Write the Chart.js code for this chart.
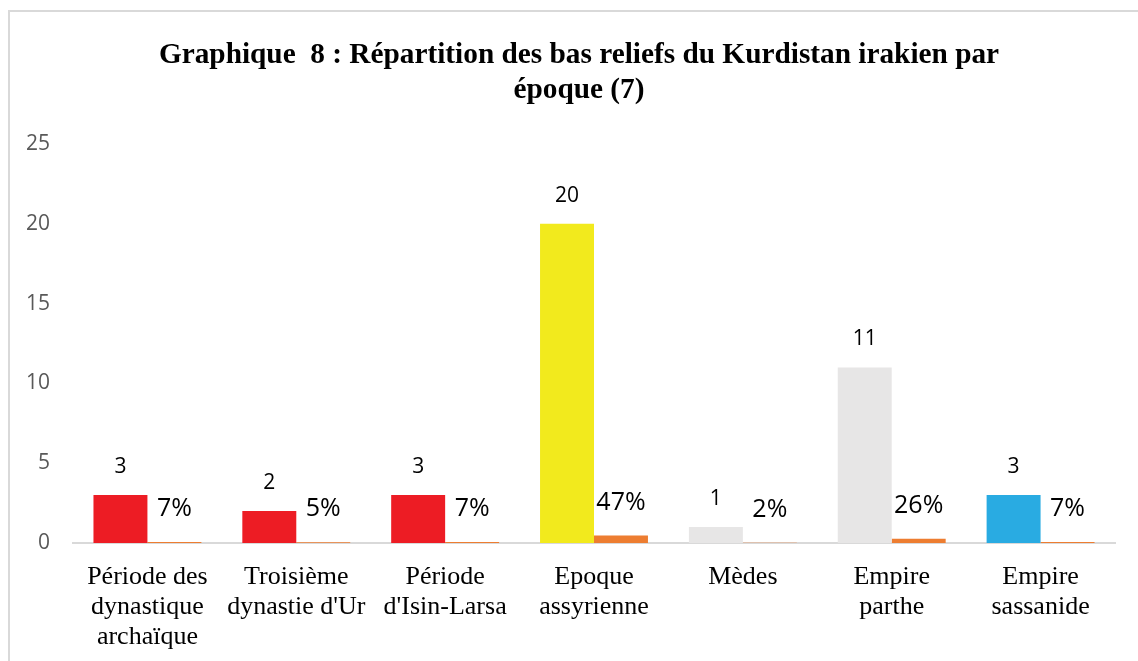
<!DOCTYPE html>
<html>
<head>
<meta charset="utf-8">
<script src="https://cdn.jsdelivr.net/npm/chart.js@4/dist/chart.umd.min.js"></script>
<style>
  html, body { margin: 0; padding: 0; background: #fff; }
  #wrap { position: relative; width: 1138px; height: 661px; overflow: hidden; }
  #frame { position: absolute; left: 8px; top: 10px; width: 1200px; height: 700px;
           border-left: 2px solid #d9d9d9; border-top: 2px solid #d9d9d9; }
  canvas { position: absolute; left: 0; top: 0; }
</style>
</head>
<body>
<div id="wrap">
  <div id="frame"></div>
  <canvas id="myChart" width="1138" height="661"></canvas>
</div>
<script>
// data
const periods = [
  ["Période des", "dynastique", "archaïque"],
  ["Troisième", "dynastie d'Ur"],
  ["Période", "d'Isin-Larsa"],
  ["Epoque", "assyrienne"],
  ["Mèdes"],
  ["Empire", "parthe"],
  ["Empire", "sassanide"],
];
const counts = [3, 2, 3, 20, 1, 11, 3];
const shares = [0.07, 0.05, 0.07, 0.47, 0.02, 0.26, 0.07];
const countColors = ["#ED1C24", "#ED1C24", "#ED1C24", "#F2EA1D", "#E7E6E6", "#E7E6E6", "#29ABE2"];
const yTicks = [0, 5, 10, 15, 20, 25];
const titleLines = ["Graphique  8 : Répartition des bas reliefs du Kurdistan irakien par", "époque (7)"];

// title drawn by hand so it can sit off-centre like the original
const titleText = {
  id: "titleText",
  afterDraw(chart) {
    const ctx = chart.ctx;
    ctx.save();
    ctx.fillStyle = "#000";
    ctx.textAlign = "center";
    ctx.textBaseline = "middle";
    ctx.font = "bold 29.3px 'Liberation Serif', serif";
    titleLines.forEach((t, i) => ctx.fillText(t, 579, 55 + i * 35));
    ctx.restore();
  },
};

// labels above the bars
const barLabels = {
  id: "barLabels",
  afterDatasetsDraw(chart) {
    const ctx = chart.ctx;
    ctx.save();
    ctx.fillStyle = "#000";
    ctx.textAlign = "center";
    ctx.textBaseline = "middle";
    chart.getDatasetMeta(0).data.forEach((bar, i) => {
      ctx.font = "21px 'Open Sans', sans-serif";
      ctx.fillText(counts[i], bar.x, bar.y - 28);
    });
    chart.getDatasetMeta(1).data.forEach((bar, i) => {
      ctx.font = "25px 'Open Sans', sans-serif";
      ctx.fillText(Math.round(shares[i] * 100) + "%", bar.x, bar.y - 33);
    });
    ctx.restore();
  },
};

const ctx = document.getElementById("myChart");
new Chart(ctx, {
  type: "bar",
  data: {
    labels: periods,
    datasets: [
      {
        label: "Nombre",
        data: counts,
        backgroundColor: countColors,
        borderWidth: 0,
      },
      {
        label: "Pourcentage",
        data: shares,
        backgroundColor: "#ED7D31",
        borderWidth: 0,
      },
    ],
  },
  options: {
    responsive: false,
    animation: false,
    layout: { padding: { left: 5, right: 23, top: 144, bottom: 0 } },
    categoryPercentage: 0.725,
    barPercentage: 1,
    plugins: {
      legend: { display: false },
      tooltip: { enabled: false },
      title: { display: false },
    },
    scales: {
      x: {
        grid: { display: false, drawTicks: false },
        border: { display: true, color: "#D9D9D9", width: 2 },
        ticks: {
          color: "#000",
          font: { family: "'Liberation Serif', serif", size: 26, lineHeight: 1.15 },
          maxRotation: 0,
          autoSkip: false,
          padding: 19,
        },
        afterFit(axis) {
          axis.height = 118;
        },
      },
      y: {
        min: 0,
        max: 25,
        afterBuildTicks(axis) {
          axis.ticks = yTicks.map((v) => ({ value: v }));
        },
        grid: { display: false, drawTicks: false },
        border: { display: false },
        ticks: {
          color: "#595959",
          font: { family: "'Open Sans', sans-serif", size: 21 },
          padding: 23,
        },
        afterFit(axis) {
          axis.width = 68;
        },
      },
    },
  },
  plugins: [barLabels, titleText],
});
</script>
</body>
</html>
